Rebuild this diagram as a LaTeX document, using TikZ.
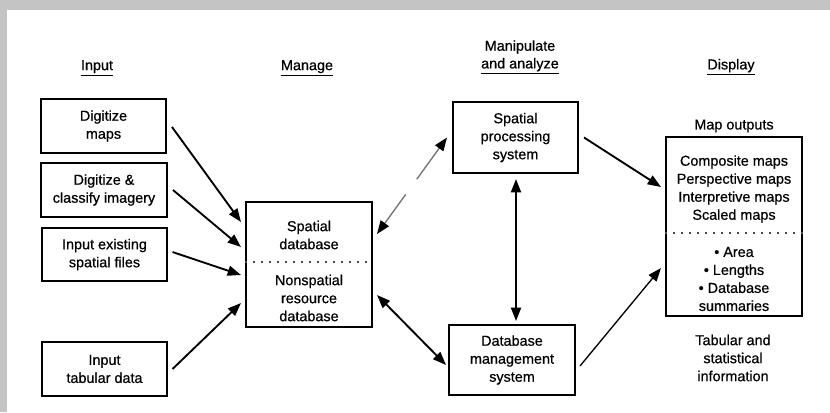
\documentclass[tikz,border=0pt]{standalone}
\usepackage{fontspec}
\setmainfont{Liberation Sans}
\newfontfamily\diagfont{Liberation Sans}[FakeBold=0.6]
\usetikzlibrary{arrows.meta}
\begin{document}
\begin{tikzpicture}[x=0.75pt,y=-0.75pt,
  sz/.style 2 args={minimum width=#1*0.75pt, minimum height=#2*0.75pt},
  box/.style={draw, line width=1.5pt, inner sep=0pt},
  lbl/.style={font=\diagfont\fontsize{10.8}{13.5}\selectfont, align=center, inner sep=0pt},
  head/.style={lbl},
  tip/.tip={Triangle[length=10pt,width=7.5pt,color=black]},
  arr/.style={-tip, line width=1.4pt},
  darr/.style={tip-tip, line width=1.4pt},
  divider/.style={line width=1.2pt, draw=black!70, dash pattern=on 1.5pt off 4.5pt},
]
% frame
\fill[black!23] (0,0) rectangle (830,412);
\fill[white] (7,10) rectangle (830,412);
\useasboundingbox (0,0) rectangle (830,412);

% column headings
\node[head] (hin)  at (97,68)  {\underline{Input}};
\node[head] (hman) at (307,68) {\underline{Manage}};
\node[head] (hma1) at (520,47) {Manipulate};
\node[head] (hma2) at (520,66) {\underline{and analyze}};
\node[head] (hdis) at (731,67) {\underline{Display}};

% input boxes
\node[box, sz={125}{54}, lbl] (dm) at (103.5,126)   {Digitize\\maps};
\node[box, sz={126}{54}, lbl] (dc) at (104,190)     {Digitize \&\\classify imagery};
\node[box, sz={125}{53}, lbl] (ie) at (104.5,254.5) {Input existing\\spatial files};
\node[box, sz={125}{54}, lbl] (it) at (104.5,369)   {Input\\tabular data};

% database box
\node[box, sz={126}{125}] (db) at (309,264.5) {};
\node[lbl] (dbsp) at (309,235) {Spatial\\database};
\node[lbl] (dbns) at (309,298) {Nonspatial\\resource\\database};
\coordinate (dbcut) at (309,262);
\draw[divider] (db.west |- dbcut) -- (db.east |- dbcut);

% processing boxes
\node[box, sz={125}{71}, lbl] (sps)  at (515.5,137.5) {Spatial\\processing\\system};
\node[box, sz={126}{70}, lbl] (dbms) at (512,360)     {Database\\management\\system};

% display box
\node[lbl] (mapout) at (734,126) {Map outputs};
\node[box, sz={136}{179}] (disp) at (734,226.5) {};
\node[lbl] (maps) at (734,189) {Composite maps\\Perspective maps\\Interpretive maps\\Scaled maps};
\coordinate (dispcut) at (734,233);
\draw[divider] (disp.west |- dispcut) -- (disp.east |- dispcut);
\node[lbl] (meas) at (734,279) {\textbullet\ Area\\\textbullet\ Lengths\\\textbullet\ Database\\summaries};
\node[lbl] (tab) at (733,358) {Tabular and\\statistical\\information};

% connectors
\draw[arr] ([shift={(5,1)}]dm.east) -- ([shift={(-4,-42.5)}]db.west);
\draw[arr] ([shift={(5,0)}]dc.east) -- ([shift={(-4,-17.5)}]db.west);
\draw[arr] ([shift={(4.5,-2.5)}]ie.east) -- ([shift={(-4,10.5)}]db.west);
\draw[arr] ([shift={(4.5,0)}]it.east) -- ([shift={(-4,38.5)}]db.west);

\draw[tip-tip, line width=1pt, draw=black!55, dash pattern=on 27pt off 14pt on 200pt]
  ([shift={(4,-30.5)}]db.east) -- ([shift={(-5,0)}]sps.west);
\draw[darr] ([shift={(4,30.5)}]db.east) -- ([shift={(-2,5)}]dbms.west);
\draw[darr] ([shift={(0.5,5)}]sps.south) -- ([shift={(4,-3)}]dbms.north);
\draw[arr] ([shift={(5,0)}]sps.east) -- ([shift={(-4,-39.5)}]disp.west);
\draw[arr, line width=1pt] ([shift={(4,6)}]dbms.east) -- ([shift={(-4,41.5)}]disp.west);
\end{tikzpicture}
\end{document}
